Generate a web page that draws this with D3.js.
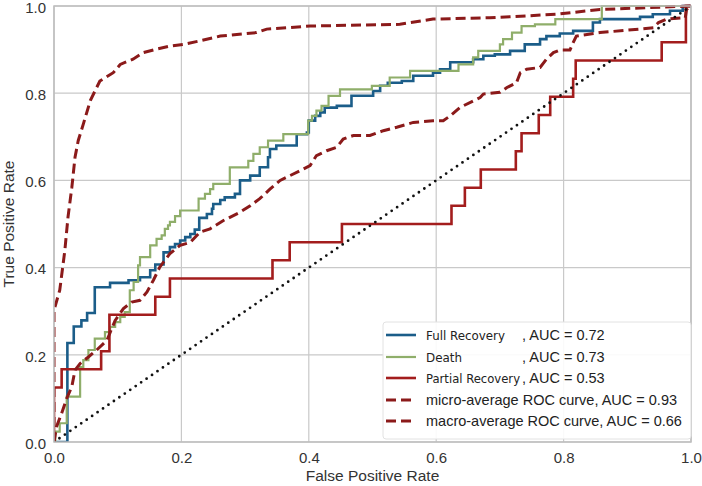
<!DOCTYPE html>
<html>
<head>
<meta charset="utf-8">
<script src="https://cdn.jsdelivr.net/npm/d3@7"></script>
<style>
	body { margin: 0; background: #fff; }
	svg { display: block; }
</style>
</head>
<body>
<div id="chart"></div>
<script>
// ROC points, [fpr, tpr]
const fullRecovery = [[0,0],[0.021,0.227],[0.031,0.265],[0.043,0.279],[0.052,0.296],[0.064,0.355],[0.088,0.365],[0.117,0.371],[0.135,0.378],[0.151,0.394],[0.159,0.407],[0.172,0.435],[0.182,0.447],[0.190,0.454],[0.198,0.462],[0.206,0.470],[0.214,0.477],[0.221,0.487],[0.228,0.514],[0.240,0.523],[0.248,0.535],[0.250,0.546],[0.261,0.555],[0.268,0.561],[0.284,0.569],[0.292,0.600],[0.308,0.611],[0.323,0.630],[0.336,0.653],[0.339,0.672],[0.349,0.680],[0.381,0.706],[0.397,0.710],[0.400,0.737],[0.410,0.748],[0.418,0.756],[0.425,0.767],[0.444,0.771],[0.467,0.794],[0.501,0.805],[0.512,0.817],[0.524,0.824],[0.546,0.828],[0.564,0.840],[0.595,0.847],[0.606,0.855],[0.622,0.871],[0.658,0.878],[0.674,0.886],[0.692,0.889],[0.716,0.897],[0.739,0.912],[0.763,0.924],[0.773,0.931],[0.794,0.937],[0.815,0.943],[0.846,0.962],[0.857,0.970],[0.920,0.975],[0.940,0.981],[0.967,0.989],[0.987,1],[1,1]];

const death = [[0,0],[0.002,0.024],[0.009,0.043],[0.020,0.104],[0.041,0.172],[0.046,0.188],[0.054,0.211],[0.064,0.237],[0.080,0.252],[0.088,0.264],[0.096,0.275],[0.104,0.287],[0.111,0.298],[0.119,0.348],[0.125,0.367],[0.132,0.405],[0.135,0.424],[0.151,0.451],[0.161,0.466],[0.169,0.474],[0.174,0.489],[0.179,0.497],[0.182,0.505],[0.190,0.518],[0.198,0.531],[0.227,0.558],[0.237,0.569],[0.245,0.580],[0.250,0.592],[0.276,0.630],[0.305,0.645],[0.313,0.661],[0.323,0.676],[0.336,0.691],[0.360,0.706],[0.399,0.737],[0.405,0.748],[0.412,0.760],[0.420,0.771],[0.431,0.794],[0.449,0.809],[0.499,0.817],[0.527,0.836],[0.559,0.851],[0.635,0.866],[0.658,0.882],[0.666,0.897],[0.700,0.912],[0.705,0.924],[0.719,0.939],[0.734,0.954],[0.755,0.958],[0.787,0.970],[0.860,1],[1,1]];

const partialRecovery = [[0,0],[0,0.125],[0.012,0.167],[0.074,0.208],[0.087,0.292],[0.159,0.333],[0.182,0.375],[0.343,0.417],[0.370,0.458],[0.452,0.5],[0.624,0.542],[0.645,0.583],[0.670,0.625],[0.725,0.667],[0.734,0.708],[0.761,0.75],[0.779,0.792],[0.815,0.833],[0.819,0.875],[0.954,0.917],[0.992,1],[1,1]];

const microAverage = [[0,0],[0,0.302],[0.009,0.348],[0.017,0.439],[0.022,0.516],[0.028,0.584],[0.033,0.653],[0.038,0.691],[0.046,0.729],[0.057,0.783],[0.072,0.828],[0.093,0.847],[0.104,0.866],[0.124,0.878],[0.140,0.893],[0.161,0.901],[0.182,0.908],[0.203,0.912],[0.229,0.920],[0.261,0.931],[0.318,0.939],[0.334,0.947],[0.402,0.954],[0.543,0.958],[0.595,0.970],[0.684,0.973],[0.789,0.981],[0.857,0.992],[1,1]];

const macroAverage = [[0,0],[0.004,0.035],[0.012,0.066],[0.020,0.100],[0.028,0.127],[0.033,0.165],[0.041,0.180],[0.054,0.195],[0.067,0.211],[0.083,0.233],[0.096,0.279],[0.109,0.306],[0.122,0.321],[0.135,0.325],[0.146,0.344],[0.156,0.371],[0.166,0.401],[0.182,0.432],[0.198,0.451],[0.214,0.458],[0.229,0.481],[0.245,0.489],[0.266,0.508],[0.292,0.527],[0.308,0.542],[0.323,0.558],[0.339,0.580],[0.355,0.600],[0.386,0.622],[0.402,0.634],[0.412,0.657],[0.428,0.668],[0.444,0.676],[0.454,0.695],[0.470,0.703],[0.496,0.703],[0.517,0.714],[0.538,0.722],[0.564,0.733],[0.595,0.737],[0.611,0.737],[0.622,0.748],[0.637,0.767],[0.669,0.790],[0.674,0.798],[0.700,0.802],[0.711,0.813],[0.726,0.824],[0.732,0.847],[0.742,0.855],[0.763,0.859],[0.773,0.878],[0.784,0.893],[0.794,0.899],[0.810,0.899],[0.815,0.916],[0.820,0.931],[0.857,0.939],[0.941,0.950],[0.949,0.962],[0.962,0.970],[0.991,0.973],[0.993,0.992],[1,1]];

const classNames = ['Full Recovery', 'Death', 'Partial Recovery'];
const classAuc = ['0.72', '0.73', '0.53'];
const avgNames = ['micro-average ROC curve', 'macro-average ROC curve'];
const avgAuc = ['0.93', '0.66'];
const ticks = [0, 0.2, 0.4, 0.6, 0.8, 1.0];

const width = 702, height = 486;
const margin = {top: 6, right: 11, bottom: 44, left: 54};
const w = width - margin.left - margin.right;
const h = height - margin.top - margin.bottom;

const svg = d3.select('#chart').append('svg')
	.attr('width', width)
	.attr('height', height);

const g = svg.append('g')
	.attr('transform', 'translate(' + margin.left + ',' + margin.top + ')');

const x = d3.scaleLinear().domain([0, 1]).range([0, w]);
const y = d3.scaleLinear().domain([0, 1]).range([h, 0]);

// grid
g.selectAll('.vgrid').data(ticks).enter().append('line')
	.attr('x1', d => x(d)).attr('x2', d => x(d))
	.attr('y1', 0).attr('y2', h)
	.attr('stroke', '#c9c9c9').attr('stroke-width', 1.2);
g.selectAll('.hgrid').data(ticks).enter().append('line')
	.attr('y1', d => y(d)).attr('y2', d => y(d))
	.attr('x1', 0).attr('x2', w)
	.attr('stroke', '#c9c9c9').attr('stroke-width', 1.2);

// axes (tick labels only)
const xAxis = d3.axisBottom(x).tickValues(ticks).tickFormat(d3.format('.1f')).tickSize(0).tickPadding(10);
const yAxis = d3.axisLeft(y).tickValues(ticks).tickFormat(d3.format('.1f')).tickSize(0).tickPadding(8);

const xAxisG = g.append('g').attr('transform', 'translate(0,' + h + ')').call(xAxis);
const yAxisG = g.append('g').call(yAxis);
[xAxisG, yAxisG].forEach(a => {
	a.select('.domain').remove();
	a.selectAll('text')
		.attr('font-family', '"Liberation Sans", Arial, sans-serif')
		.attr('font-size', 15)
		.attr('fill', '#333');
});
yAxisG.selectAll('text').attr('dy', '0.42em');

g.append('text')
	.attr('x', w / 2).attr('y', h + 39)
	.attr('text-anchor', 'middle')
	.attr('font-family', '"Liberation Sans", Arial, sans-serif')
	.attr('font-size', 15.5).attr('fill', '#333')
	.text('False Positive Rate');
g.append('text')
	.attr('transform', 'translate(' + (-40) + ',' + (h / 2) + ') rotate(-90)')
	.attr('text-anchor', 'middle')
	.attr('font-family', '"Liberation Sans", Arial, sans-serif')
	.attr('font-size', 15.5).attr('fill', '#333')
	.text('True Positive Rate');

// curves
svg.append('defs').append('clipPath').attr('id', 'clip')
	.append('rect').attr('x', 0).attr('y', -2).attr('width', w + 2).attr('height', h + 2);

const plot = g.append('g').attr('clip-path', 'url(#clip)');

const stepLine = d3.line().x(d => x(d[0])).y(d => y(d[1])).curve(d3.curveStepAfter);
const smoothLine = d3.line().x(d => x(d[0])).y(d => y(d[1]));

const series = [
	{data: fullRecovery, color: '#1b5d89', width: 2.6, dash: null, line: stepLine},
	{data: death, color: '#8fae6a', width: 2.2, dash: null, line: stepLine},
	{data: partialRecovery, color: '#a31d1d', width: 2.6, dash: null, line: stepLine},
	{data: microAverage, color: '#8b1a1a', width: 3, dash: '10,5', line: smoothLine},
	{data: macroAverage, color: '#8b1a1a', width: 3, dash: '10,5', line: smoothLine}
];

series.forEach(s => {
	plot.append('path')
		.attr('d', s.line(s.data))
		.attr('fill', 'none')
		.attr('stroke', s.color)
		.attr('stroke-width', s.width)
		.attr('stroke-dasharray', s.dash)
		.attr('stroke-linejoin', 'miter');
});

plot.append('path')
	.attr('d', smoothLine([[0, 0], [1, 1]]))
	.attr('fill', 'none')
	.attr('stroke', '#111')
	.attr('stroke-width', 2.8)
	.attr('stroke-linecap', 'round')
	.attr('stroke-dasharray', '0,6.6');

// frame
g.append('rect')
	.attr('width', w).attr('height', h)
	.attr('fill', 'none').attr('stroke', '#bdbdbd').attr('stroke-width', 1.5);

// legend
const legend = svg.append('g').attr('transform', 'translate(383,322)');
legend.append('rect')
	.attr('width', 308).attr('height', 117).attr('rx', 3)
	.attr('fill', '#fff').attr('fill-opacity', 0.9)
	.attr('stroke', '#e2e2e2');

const rowY = [13, 35, 56, 78, 99];
series.forEach((s, i) => {
	legend.append('line')
		.attr('x1', 3).attr('x2', 33)
		.attr('y1', rowY[i]).attr('y2', rowY[i])
		.attr('stroke', s.color)
		.attr('stroke-width', s.width)
		.attr('stroke-dasharray', s.dash);
});

classNames.forEach((name, i) => {
	legend.append('text')
		.attr('x', 43).attr('y', rowY[i] + 5)
		.attr('font-family', '"DejaVu Sans", sans-serif')
		.attr('font-size', 12.5)
		.attr('textLength', [79, 36, 94][i])
		.attr('lengthAdjust', 'spacingAndGlyphs')
		.attr('fill', '#222')
		.text(name);
	legend.append('text')
		.attr('x', 139).attr('y', rowY[i] + 5)
		.attr('font-family', '"Liberation Sans", Arial, sans-serif')
		.attr('font-size', 14.5)
		.attr('fill', '#222')
		.text(', AUC = ' + classAuc[i]);
});

avgNames.forEach((name, i) => {
	legend.append('text')
		.attr('x', 43).attr('y', rowY[i + 3] + 5)
		.attr('font-family', '"Liberation Sans", Arial, sans-serif')
		.attr('font-size', 14.5)
		.attr('fill', '#222')
		.text(name + ', AUC = ' + avgAuc[i]);
});
</script>
</body>
</html>
